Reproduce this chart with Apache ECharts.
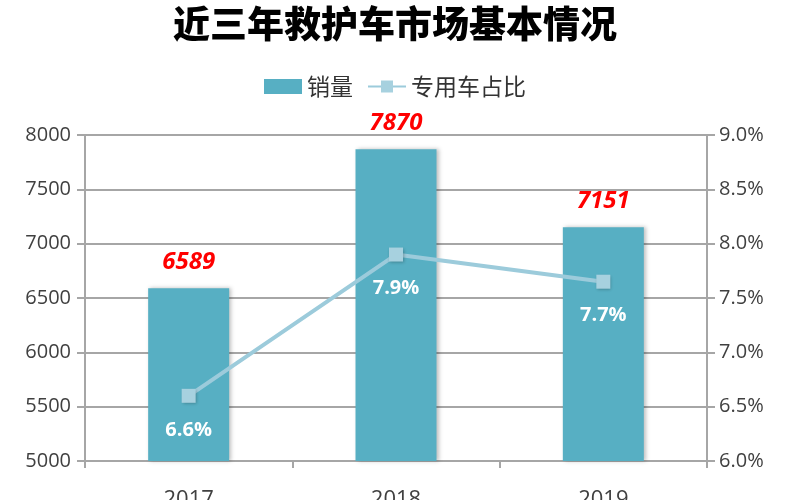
<!DOCTYPE html>
<html><head><meta charset="utf-8">
<script src="https://cdn.jsdelivr.net/npm/echarts@6/dist/echarts.min.js"></script>
<style>html,body{margin:0;padding:0;background:#fff}#c{width:790px;height:500px}</style>
</head><body><div id="c"></div>
<script>
const categories = ['2017', '2018', '2019'];
const sales = [6589, 7870, 7151];
const shareRatio = [6.6, 7.9, 7.65];
const leftTicks = [5000, 8000, 500];
const rightTicks = [6.0, 9.0, 0.5];

const chart = echarts.init(document.getElementById('c'));
chart.setOption({
  animation: false,
  title: {
    text: '近三年救护车市场基本情况', left: 'center', top: 0,
    textStyle: { fontSize: 37, fontWeight: 900, color: '#000', fontFamily: '"Noto Sans CJK SC",sans-serif' }
  },
  legend: {
    top: 70, left: 'center', itemGap: 14, itemWidth: 38, itemHeight: 15,
    textStyle: { fontSize: 23, color: '#333', fontFamily: '"Noto Sans CJK SC",sans-serif' },
    data: [{ name: '销量', icon: 'rect' }, { name: '专用车占比' }]
  },
  grid: { left: 85, right: 83, top: 135, bottom: 39, containLabel: false, outerBoundsMode: 'none' },
  xAxis: {
    type: 'category', data: categories,
    axisLine: { lineStyle: { color: '#a6a6a6', width: 2 } },
    axisTick: { show: true, length: 7, lineStyle: { color: '#a6a6a6', width: 2 } },
    axisLabel: { fontSize: 22, color: '#404040', margin: 28, fontFamily: '"Open Sans",sans-serif' }
  },
  yAxis: [
    {
      type: 'value', min: leftTicks[0], max: leftTicks[1], interval: leftTicks[2],
      axisLine: { show: true, lineStyle: { color: '#a6a6a6', width: 2 } },
      axisTick: { show: true, length: 8, lineStyle: { color: '#a6a6a6', width: 2 } },
      splitLine: { lineStyle: { color: '#a6a6a6', width: 2 } },
      axisLabel: { fontSize: 20, color: '#404040', margin: 14, fontFamily: '"Open Sans",sans-serif',
        formatter: v => String(v) }
    },
    {
      type: 'value', min: rightTicks[0], max: rightTicks[1], interval: rightTicks[2],
      axisLine: { show: true, lineStyle: { color: '#a6a6a6', width: 2 } },
      axisTick: { show: true, length: 8, lineStyle: { color: '#a6a6a6', width: 2 } },
      splitLine: { show: false },
      axisLabel: { fontSize: 20, color: '#404040', margin: 12, fontFamily: '"Open Sans",sans-serif',
        formatter: v => v.toFixed(1) + '%' }
    }
  ],
  series: [
    {
      name: '销量', type: 'bar', data: sales, barWidth: 81, yAxisIndex: 0,
      itemStyle: { color: '#57afc3',
        shadowColor: 'rgba(0,0,0,0.25)', shadowBlur: 4, shadowOffsetX: 2, shadowOffsetY: 0 },
      label: { show: true, position: 'top', distance: 14, color: '#ff0000', fontSize: 24,
        fontWeight: 'bold', fontStyle: 'italic', fontFamily: '"Open Sans",sans-serif' }
    },
    {
      name: '专用车占比', type: 'line', data: shareRatio, yAxisIndex: 1,
      symbol: 'rect', symbolSize: 14,
      lineStyle: { color: '#9ccbdb', width: 4 },
      itemStyle: { color: '#a7d1df', shadowColor: 'rgba(0,0,0,0.25)', shadowBlur: 3, shadowOffsetX: 1, shadowOffsetY: 1 },
      label: { show: true, position: 'bottom', distance: 17, color: '#ffffff', fontSize: 20,
        fontWeight: 'bold', fontFamily: '"Open Sans",sans-serif', formatter: p => p.value.toFixed(1) + '%' }
    }
  ]
});
</script></body></html>
